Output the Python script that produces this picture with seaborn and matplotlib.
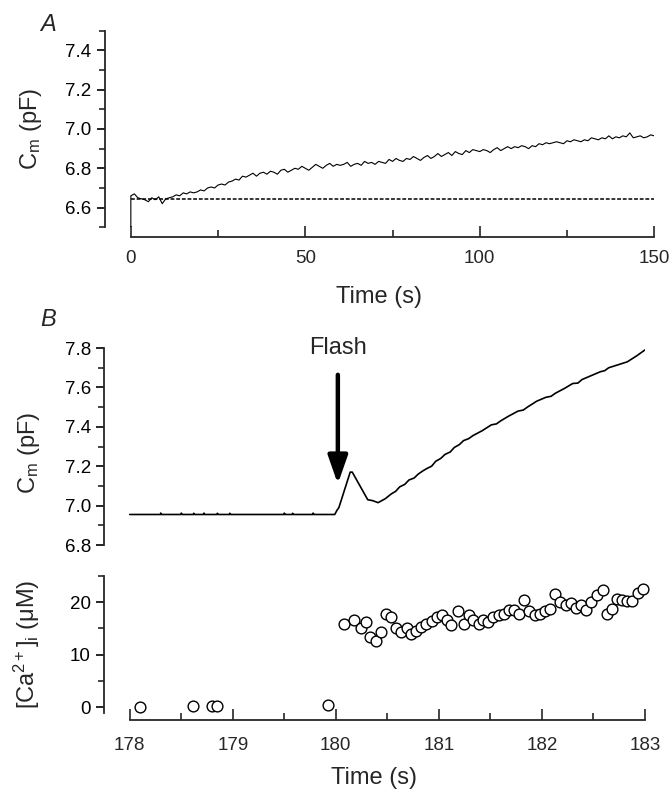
import matplotlib
matplotlib.use("Agg")
import matplotlib.pyplot as plt
from matplotlib.ticker import MultipleLocator
import pandas as pd
import seaborn as sns

# ---- Panel A: membrane capacitance over 150 s (1 s samples)
a_time = list(range(0, 151))
a_cm = [
    6.660, 6.670, 6.650, 6.645, 6.640, 6.630, 6.650, 6.640, 6.655, 6.620,
    6.645, 6.650, 6.655, 6.665, 6.660, 6.675, 6.670, 6.680, 6.675, 6.680,
    6.690, 6.685, 6.700, 6.705, 6.700, 6.715, 6.720, 6.715, 6.730, 6.735,
    6.745, 6.740, 6.760, 6.755, 6.765, 6.775, 6.760, 6.775, 6.780, 6.770,
    6.785, 6.780, 6.770, 6.790, 6.795, 6.780, 6.790, 6.800, 6.795, 6.810,
    6.800, 6.790, 6.805, 6.820, 6.810, 6.800, 6.815, 6.825, 6.810, 6.820,
    6.815, 6.820, 6.830, 6.810, 6.820, 6.825, 6.815, 6.835, 6.825, 6.830,
    6.820, 6.835, 6.830, 6.825, 6.845, 6.835, 6.850, 6.840, 6.835, 6.850,
    6.845, 6.860, 6.850, 6.840, 6.855, 6.865, 6.850, 6.860, 6.875, 6.860,
    6.870, 6.880, 6.865, 6.885, 6.875, 6.870, 6.890, 6.880, 6.895, 6.890,
    6.885, 6.895, 6.890, 6.880, 6.895, 6.905, 6.890, 6.900, 6.910, 6.900,
    6.910, 6.905, 6.915, 6.910, 6.900, 6.915, 6.910, 6.925, 6.920, 6.930,
    6.925, 6.930, 6.935, 6.930, 6.925, 6.940, 6.935, 6.945, 6.940, 6.935,
    6.945, 6.940, 6.955, 6.950, 6.945, 6.955, 6.950, 6.965, 6.950, 6.960,
    6.955, 6.965, 6.960, 6.980, 6.955, 6.960, 6.965, 6.955, 6.960, 6.970,
    6.965,
]
a_baseline = 6.645

# ---- Panel B top: capacitance around the flash
b_time = [178.00, 178.30, 178.30, 178.31, 178.50, 178.50, 178.51, 178.62, 178.62,
          178.63, 178.72, 178.72, 178.73, 178.85, 178.85, 178.86, 178.97, 178.97,
          178.98, 179.50, 179.50, 179.51, 179.58, 179.58, 179.59, 179.78, 179.78,
          179.79, 179.99, 180.01, 180.03, 180.14, 180.16, 180.31, 180.36, 180.41,
          180.48, 180.54, 180.58, 180.62, 180.67, 180.71, 180.76, 180.80, 180.85,
          180.89, 180.93, 180.97, 181.02, 181.06, 181.11, 181.15, 181.20, 181.24,
          181.29, 181.33, 181.42, 181.51, 181.56, 181.60, 181.68, 181.77, 181.82,
          181.86, 181.95, 182.04, 182.09, 182.13, 182.22, 182.30, 182.35, 182.39,
          182.48, 182.57, 182.61, 182.65, 182.74, 182.83, 182.92, 183.00]
b_cm = [6.955, 6.955, 6.962, 6.955, 6.955, 6.962, 6.955, 6.955, 6.961,
        6.955, 6.955, 6.962, 6.955, 6.955, 6.961, 6.955, 6.955, 6.961,
        6.955, 6.955, 6.962, 6.955, 6.955, 6.961, 6.955, 6.955, 6.962,
        6.955, 6.955, 6.975, 6.990, 7.170, 7.170, 7.030, 7.025, 7.015,
        7.035, 7.060, 7.072, 7.095, 7.108, 7.130, 7.140, 7.160, 7.178,
        7.190, 7.200, 7.225, 7.240, 7.260, 7.272, 7.295, 7.310, 7.330,
        7.340, 7.355, 7.380, 7.410, 7.415, 7.430, 7.455, 7.480, 7.485,
        7.500, 7.530, 7.550, 7.555, 7.570, 7.595, 7.620, 7.622, 7.640,
        7.660, 7.680, 7.685, 7.700, 7.715, 7.730, 7.760, 7.790]

# ---- Panel B bottom: [Ca2+]i
ca_time = [178.10, 178.61, 178.80, 178.85, 179.92,
           180.08, 180.18, 180.24, 180.29, 180.33, 180.39, 180.44, 180.49, 180.54,
           180.58, 180.63, 180.69, 180.73, 180.78, 180.83, 180.88, 180.93, 180.98,
           181.03, 181.08, 181.12, 181.19, 181.24, 181.29, 181.33, 181.39, 181.43,
           181.48, 181.53, 181.58, 181.63, 181.68, 181.73, 181.78, 181.83, 181.88,
           181.93, 181.98, 182.03, 182.08, 182.13, 182.18, 182.23, 182.28, 182.33,
           182.38, 182.43, 182.48, 182.54, 182.59, 182.63, 182.68, 182.73, 182.78,
           182.83, 182.88, 182.93, 182.98]
ca_conc = [0.1, 0.3, 0.25, 0.25, 0.5,
           15.9, 16.6, 15.0, 16.2, 13.4, 12.7, 14.3, 17.7, 17.2,
           15.0, 14.3, 15.1, 14.0, 14.6, 15.3, 15.9, 16.4, 17.2,
           17.5, 16.6, 15.7, 18.3, 15.9, 17.5, 16.7, 15.9, 16.7,
           16.2, 17.1, 17.6, 17.8, 18.5, 18.5, 17.8, 20.4, 18.3,
           17.5, 17.8, 18.3, 18.8, 21.5, 20.1, 19.4, 19.9, 18.9,
           19.4, 18.6, 20.1, 21.3, 22.4, 17.8, 18.8, 20.7, 20.5,
           20.3, 20.3, 21.7, 22.6]

sns.set_style("ticks")
plt.rcParams["font.family"] = ["Liberation Sans", "DejaVu Sans"]
plt.rcParams["mathtext.fontset"] = "custom"
plt.rcParams["mathtext.rm"] = "Liberation Sans"
plt.rcParams["mathtext.it"] = "Liberation Sans:italic"
plt.rcParams["axes.linewidth"] = 1.3

TICK_FS = 13.5
LABEL_FS = 17

fig = plt.figure(figsize=(6.71, 8.06), dpi=100)
ax_a = fig.add_axes([0.156, 0.718, 0.819, 0.244])
ax_b1 = fig.add_axes([0.155, 0.3238, 0.806, 0.2444])
ax_b2 = fig.add_axes([0.155, 0.1154, 0.806, 0.170])


def style_axes(ax, xpad=9):
    ax.spines["top"].set_visible(False)
    ax.spines["right"].set_visible(False)
    ax.tick_params(axis="y", which="major", direction="out", length=6, width=1.2,
                   labelsize=TICK_FS, colors="black")
    ax.tick_params(axis="y", which="minor", direction="out", length=4, width=1.2)
    ax.tick_params(axis="x", which="major", direction="in", length=8, width=1.2,
                   labelsize=TICK_FS, pad=xpad)
    ax.tick_params(axis="x", which="minor", direction="in", length=5, width=1.2)


# Panel A
df_a = pd.DataFrame({"t": [0] + a_time, "cm": [6.5] + a_cm})
sns.lineplot(data=df_a, x="t", y="cm", ax=ax_a, color="black", lw=0.8,
             estimator=None, sort=False)
ax_a.plot([0, 150], [a_baseline, a_baseline], color="black", lw=1.1,
          dashes=(2.5, 1.2))
ax_a.set_xlim(-7.5, 150)
ax_a.set_ylim(6.5, 7.5)
style_axes(ax_a)
ax_a.spines["bottom"].set_position(("outward", 7))
ax_a.spines["bottom"].set_bounds(0, 150)
ax_a.xaxis.set_major_locator(MultipleLocator(50))
ax_a.xaxis.set_minor_locator(MultipleLocator(25))
ax_a.yaxis.set_minor_locator(MultipleLocator(0.1))
ax_a.set_yticks([6.6, 6.8, 7.0, 7.2, 7.4])
ax_a.set_xlabel("Time (s)", fontsize=LABEL_FS, labelpad=14)
ax_a.set_ylabel(r"C$_{\rm m}$ (pF)", fontsize=LABEL_FS)
ax_a.yaxis.set_label_coords(-0.11, 0.5)

# Panel B top
df_b = pd.DataFrame({"t": b_time, "cm": b_cm})
sns.lineplot(data=df_b, x="t", y="cm", ax=ax_b1, color="black", lw=1.2,
             estimator=None, sort=False)
ax_b1.set_xlim(177.75, 183.0)
ax_b1.set_ylim(6.8, 7.8)
style_axes(ax_b1)
ax_b1.spines["bottom"].set_visible(False)
ax_b1.set_xticks([])
ax_b1.yaxis.set_major_locator(MultipleLocator(0.2))
ax_b1.yaxis.set_minor_locator(MultipleLocator(0.1))
ax_b1.set_xlabel("")
ax_b1.set_ylabel(r"C$_{\rm m}$ (pF)", fontsize=LABEL_FS)
ax_b1.yaxis.set_label_coords(-0.115, 0.47)
ax_b1.annotate("Flash", xy=(180.02, 7.11), xytext=(180.02, 7.8),
               fontsize=LABEL_FS, ha="center", va="center",
               arrowprops=dict(arrowstyle="-|>,head_length=1.0,head_width=0.35",
                               color="black", lw=3.2, shrinkA=9, shrinkB=0),
               annotation_clip=False)

# Panel B bottom
df_ca = pd.DataFrame({"t": ca_time, "ca": ca_conc})
sns.scatterplot(data=df_ca, x="t", y="ca", ax=ax_b2, s=60, facecolor="white",
                edgecolor="black", linewidth=1.0, clip_on=False, zorder=3)
ax_b2.set_xlim(177.75, 183.0)
ax_b2.set_ylim(-1.1, 25)
style_axes(ax_b2, xpad=12)
ax_b2.spines["bottom"].set_position(("outward", 5))
ax_b2.spines["bottom"].set_bounds(178, 183)
ax_b2.xaxis.set_major_locator(MultipleLocator(1))
ax_b2.xaxis.set_minor_locator(MultipleLocator(0.5))
ax_b2.yaxis.set_major_locator(MultipleLocator(10))
ax_b2.yaxis.set_minor_locator(MultipleLocator(5))
ax_b2.set_xlabel("Time (s)", fontsize=LABEL_FS, labelpad=10)
ax_b2.set_ylabel(r"[Ca$^{2+}$]$_{\rm i}$ (μM)", fontsize=LABEL_FS)
ax_b2.yaxis.set_label_coords(-0.115, 0.5)

fig.text(0.06, 0.969, "A", fontsize=LABEL_FS, style="italic", ha="left", va="center")
fig.text(0.06, 0.603, "B", fontsize=LABEL_FS, style="italic", ha="left", va="center")

fig.savefig("out.png", dpi=100)
